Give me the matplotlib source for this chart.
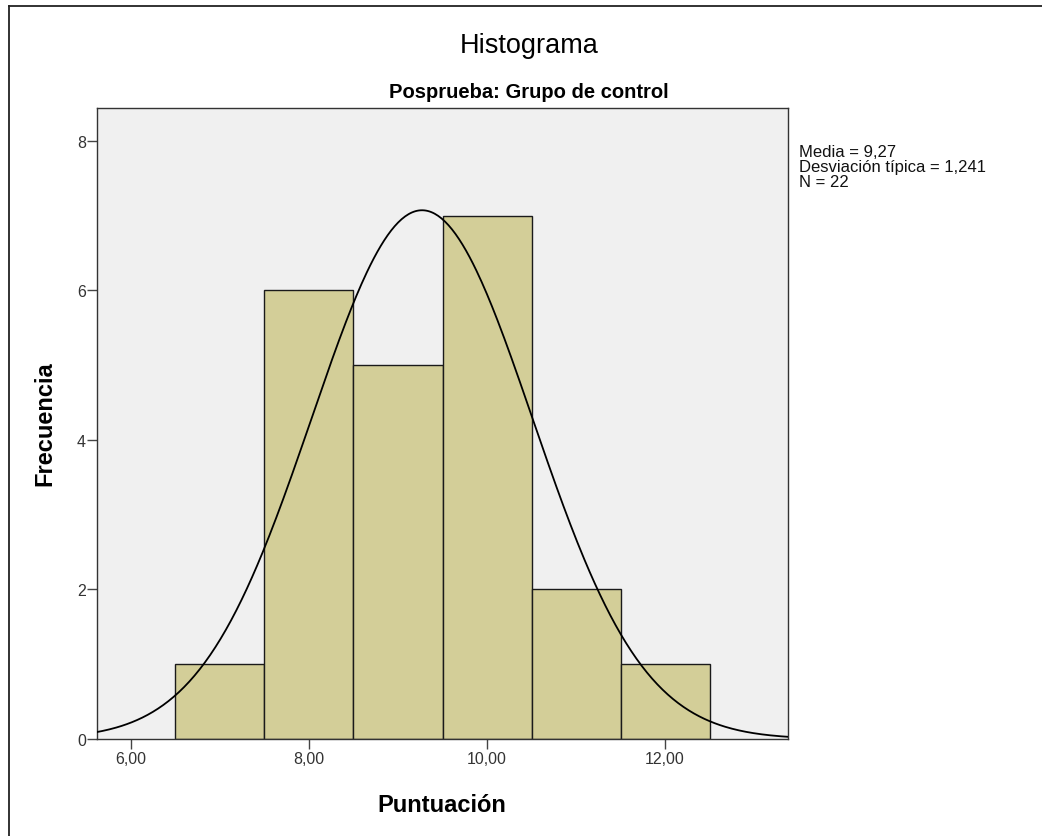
import numpy as np
import matplotlib.pyplot as plt
from matplotlib.lines import Line2D

plt.rcParams['font.family'] = ['Liberation Sans', 'DejaVu Sans']

# Data
bin_edges = [6.5, 7.5, 8.5, 9.5, 10.5, 11.5, 12.5]
counts = [1, 6, 5, 7, 2, 1]
media = 9.27
desv = 1.241
n = 22

W, H = 1042, 837
fig = plt.figure(figsize=(W / 100, H / 100), dpi=100)
ax = fig.add_axes([97 / W, 1 - 740 / H, (788 - 97) / W, (740 - 109) / H])
ax.set_facecolor('#f0f0f0')

widths = np.diff(bin_edges)
ax.bar(bin_edges[:-1], counts, width=widths, align='edge',
       color='#d3ce98', edgecolor='#1a1a1a', linewidth=1.0, zorder=2)

# curva normal
xs = np.linspace(5.6, 13.4, 400)
ys = n * widths[0] * np.exp(-0.5 * ((xs - media) / desv) ** 2) / (desv * np.sqrt(2 * np.pi))
ax.plot(xs, ys, color='black', linewidth=1.3, zorder=3)

ax.set_xlim(5.618, 13.382)
ax.set_ylim(0, 8.44)
ax.set_xticks([6, 8, 10, 12])
ax.set_xticklabels(['6,00', '8,00', '10,00', '12,00'])
ax.set_yticks([0, 2, 4, 6, 8])
ax.tick_params(direction='out', length=7, width=1, labelsize=11.5, colors='#444444',
               labelcolor='#333333')
ax.tick_params(axis='x', pad=2)
ax.tick_params(axis='y', pad=1)
for s in ax.spines.values():
    s.set_color('#333333')
    s.set_linewidth(1)

fig.text(442 / W, 1 - 812 / H, 'Puntuación', ha='center', va='baseline',
         fontsize=17, fontweight='bold')
fig.text(45 / W, 1 - 424 / H, 'Frecuencia', ha='center', va='center', rotation=90,
         fontsize=17, fontweight='bold')

fig.text(529 / W, 1 - 53 / H, 'Histograma', ha='center', va='baseline', fontsize=19.5)
fig.text(529 / W, 1 - 98 / H, 'Posprueba: Grupo de control', ha='center', va='baseline',
         fontsize=14.5, fontweight='bold')

stats = 'Media = 9,27\nDesviación típica = 1,241\nN = 22'
fig.text(799 / W, 1 - 145 / H, stats, ha='left', va='top', fontsize=12,
         linespacing=0.98, color='#111111')

# marco exterior (solo se ve arriba y a la izquierda)
fig.add_artist(Line2D([9 / W, 9 / W], [0, 1 - 7 / H], transform=fig.transFigure,
                      color='#222222', linewidth=1.3))
fig.add_artist(Line2D([9 / W, 1], [1 - 7 / H, 1 - 7 / H], transform=fig.transFigure,
                      color='#222222', linewidth=1.3))

fig.savefig('out.png', dpi=100)
